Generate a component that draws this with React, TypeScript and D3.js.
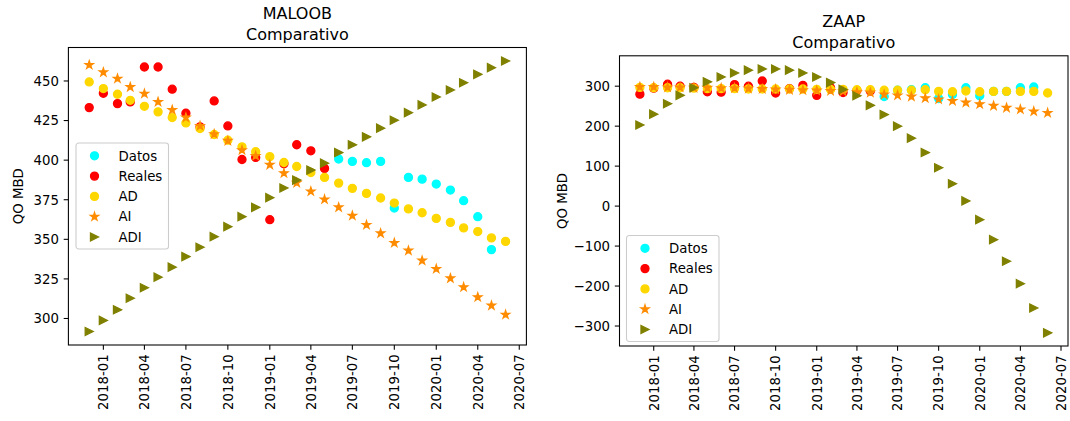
import React from "react";
import * as d3 from "d3";

// ---------- DATA ----------
const months = [
  "2017-12", "2018-01", "2018-02", "2018-03", "2018-04", "2018-05", "2018-06", "2018-07",
  "2018-08", "2018-09", "2018-10", "2018-11", "2018-12", "2019-01", "2019-02", "2019-03",
  "2019-04", "2019-05", "2019-06", "2019-07", "2019-08", "2019-09", "2019-10", "2019-11",
  "2019-12", "2020-01", "2020-02", "2020-03", "2020-04", "2020-05", "2020-06",
];
const realesMonths = months.slice(0, 18);
const datosMonths = [
  "2019-06", "2019-07", "2019-08", "2019-09", "2019-10", "2019-11",
  "2019-12", "2020-01", "2020-02", "2020-03", "2020-04", "2020-05",
];
const xTickLabels = [
  "2018-01", "2018-04", "2018-07", "2018-10", "2019-01", "2019-04",
  "2019-07", "2019-10", "2020-01", "2020-04", "2020-07",
];

// MALOOB
const maloobDatos = [400.7, 399.2, 398.4, 399.2, 369.8, 389.1, 388.0, 384.9, 381.1, 374.4, 364.3, 343.5];
const maloobReales = [433.2, 442.2, 435.7, 436.8, 458.8, 458.8, 444.8, 429.6, 421.0, 437.4, 421.6, 400.4, 401.7, 362.4, 397.7, 409.7, 405.9, 394.8];
const maloobAD = [449.4, 445.2, 441.6, 437.8, 434.0, 430.5, 426.9, 423.5, 420.0, 416.2, 412.6, 408.4, 405.3, 402.2, 398.5, 396.0, 392.2, 389.1, 385.5, 382.2, 379.0, 376.1, 372.9, 369.2, 366.8, 363.2, 360.7, 357.2, 354.9, 350.9, 348.7];
const maloobAI = [460.1, 455.5, 451.5, 446.2, 442.0, 436.8, 431.7, 426.9, 421.6, 416.4, 412.2, 406.3, 402.7, 397.1, 391.8, 385.7, 380.3, 375.2, 370.2, 364.9, 359.1, 353.8, 347.7, 342.9, 336.6, 331.3, 325.4, 319.8, 313.5, 308.2, 302.4];
const maloobADI = [291.8, 298.8, 305.5, 312.8, 319.4, 326.1, 332.4, 339.1, 345.0, 351.7, 358.0, 364.3, 370.2, 376.3, 382.4, 387.4, 393.7, 398.1, 404.8, 409.7, 414.7, 420.2, 425.2, 430.0, 434.9, 439.9, 444.3, 448.9, 454.2, 458.4, 462.6];
const maloobYTicks = [300, 325, 350, 375, 400, 425, 450];

// ZAAP
const zaapDatos = [274, 290, 291, 296, 269, 279, 296, 276, 287, 287, 296, 298];
const zaapReales = [280, 295, 305, 300, 297, 286, 285, 304, 300, 313, 283, 294, 302, 277, 296, 284, 289, 288];
const zaapAD = [297, 296, 296, 296, 295, 294, 294, 294, 293, 293, 293, 293, 293, 292, 292, 292, 291, 291, 290, 290, 290, 291, 287, 286, 288, 286, 287, 287, 287, 287, 283];
const zaapAI = [298, 298, 297, 297, 296, 296, 295, 295, 294, 293, 292, 291, 290, 289, 288, 287, 285, 284, 279, 277, 274, 270, 267, 263, 259, 255, 251, 246, 242, 237, 233];
const zaapADI = [203, 230, 256, 277, 296, 311, 323, 333, 340, 343, 343, 340, 333, 323, 309, 292, 276, 252, 229, 200, 170, 134, 96, 56, 13, -34, -84, -138, -194, -255, -317];
const zaapYTicks = [-300, -200, -100, 0, 100, 200, 300];

const seriesNames = ["Datos", "Reales", "AD", "AI", "ADI"];
const seriesColors = ["#00ffff", "#ff0000", "#ffd700", "#ff8c00", "#808000"];
const seriesMarkers = ["circle", "circle", "circle", "star", "triangle"];

// ---------- HELPERS ----------
const parseMonth = d3.timeParse("%Y-%m");
const FONT = "DejaVu Sans, sans-serif";

function markerPath(kind: string): string {
  if (kind === "star") {
    const R = 4.2;
    const r = R * 0.381966;
    const pts: string[] = [];
    for (let k = 0; k < 10; k++) {
      const a = -Math.PI / 2 + (k * Math.PI) / 5;
      const rad = k % 2 === 0 ? R : r;
      pts.push(`${(rad * Math.cos(a)).toFixed(3)},${(rad * Math.sin(a)).toFixed(3)}`);
    }
    return "M" + pts.join("L") + "Z";
  }
  if (kind === "triangle") {
    return "M4,0L-4,4L-4,-4Z";
  }
  return "";
}

function Marker({ kind, color, x, y }: { kind: string; color: string; x: number; y: number }) {
  if (kind === "circle") {
    return <circle cx={x} cy={y} r={4} fill={color} stroke={color} strokeWidth={1.33} />;
  }
  return (
    <path
      d={markerPath(kind)}
      transform={`translate(${x},${y})`}
      fill={color}
      stroke={color}
      strokeWidth={1.33}
      strokeLinejoin="miter"
    />
  );
}

type ChartProps = {
  title: string;
  left: number;
  right: number;
  top: number;
  bottom: number;
  datos: number[];
  reales: number[];
  ad: number[];
  ai: number[];
  adi: number[];
  yTicks: number[];
  legendX: number;
  legendY: number;
  yLabelX: number;
};

function Chart(p: ChartProps) {
  const allDates = months.map((m) => parseMonth(m) as Date);
  const d0 = allDates[0].getTime();
  const d1 = allDates[allDates.length - 1].getTime();
  const pad = (d1 - d0) * 0.05;
  const x = d3.scaleTime().domain([new Date(d0 - pad), new Date(d1 + pad)]).range([p.left, p.right]);

  const allVals = [...p.datos, ...p.reales, ...p.ad, ...p.ai, ...p.adi];
  const [mn, mx] = d3.extent(allVals) as [number, number];
  const ypad = (mx - mn) * 0.05;
  const y = d3.scaleLinear().domain([mn - ypad, mx + ypad]).range([p.bottom, p.top]);

  const series = [
    { months: datosMonths, vals: p.datos },
    { months: realesMonths, vals: p.reales },
    { months: months, vals: p.ad },
    { months: months, vals: p.ai },
    { months: months, vals: p.adi },
  ];

  const tickLen = 4.7;
  const fmtY = (v: number) => (v < 0 ? "\u2212" + Math.abs(v) : String(v));
  const cx = (p.left + p.right) / 2;
  const rowH = 20.3;

  return (
    <g>
      {/* Title */}
      <text x={cx} y={p.top - 29} textAnchor="middle" fontFamily={FONT} fontSize={16} fill="#000">
        {p.title}
      </text>
      <text x={cx} y={p.top - 8} textAnchor="middle" fontFamily={FONT} fontSize={16} fill="#000">
        Comparativo
      </text>

      {/* Points */}
      {series.map((s, si) =>
        s.vals.map((v, i) => (
          <Marker
            key={`${si}-${i}`}
            kind={seriesMarkers[si]}
            color={seriesColors[si]}
            x={x(parseMonth(s.months[i]) as Date)}
            y={y(v)}
          />
        ))
      )}

      {/* Frame */}
      <rect
        x={p.left}
        y={p.top}
        width={p.right - p.left}
        height={p.bottom - p.top}
        fill="none"
        stroke="#000"
        strokeWidth={1.07}
      />

      {/* X ticks */}
      {xTickLabels.map((t) => {
        const tx = x(parseMonth(t) as Date);
        return (
          <g key={t}>
            <line x1={tx} x2={tx} y1={p.bottom} y2={p.bottom + tickLen} stroke="#000" strokeWidth={1.07} />
            <text
              transform={`translate(${tx},${p.bottom + tickLen + 4.7}) rotate(-90)`}
              textAnchor="end"
              dy="0.36em"
              fontFamily={FONT}
              fontSize={13.3}
              fill="#000"
            >
              {t}
            </text>
          </g>
        );
      })}

      {/* Y ticks */}
      {p.yTicks.map((t) => {
        const ty = y(t);
        return (
          <g key={t}>
            <line x1={p.left - tickLen} x2={p.left} y1={ty} y2={ty} stroke="#000" strokeWidth={1.07} />
            <text
              x={p.left - tickLen - 4.7}
              y={ty}
              dy="0.36em"
              textAnchor="end"
              fontFamily={FONT}
              fontSize={13.3}
              fill="#000"
            >
              {fmtY(t)}
            </text>
          </g>
        );
      })}

      {/* Y label */}
      <text
        transform={`translate(${p.yLabelX},${(p.top + p.bottom) / 2}) rotate(-90)`}
        textAnchor="middle"
        dy="0.36em"
        fontFamily={FONT}
        fontSize={13.3}
        fill="#000"
      >
        QO MBD
      </text>

      {/* Legend */}
      <g transform={`translate(${p.legendX},${p.legendY})`}>
        <rect x={0} y={0} width={92.5} height={106} rx={2.7} fill="#fff" fillOpacity={0.8} stroke="#cccccc" strokeWidth={1.07} />
        {seriesNames.map((n, i) => (
          <g key={n}>
            <Marker kind={seriesMarkers[i]} color={seriesColors[i]} x={18.5} y={12.8 + i * rowH} />
            <text x={42.5} y={12.8 + i * rowH} dy="0.36em" fontFamily={FONT} fontSize={13.3} fill="#000">
              {n}
            </text>
          </g>
        ))}
      </g>
    </g>
  );
}

export default function App() {
  return (
    <svg
      width={1070}
      height={421}
      style={{ position: "absolute", left: 0, top: 0, background: "#fff" }}
    >
      <rect x={0} y={0} width={1070} height={421} fill="#fff" />
      <Chart
        title="MALOOB"
        left={68.4}
        right={526.4}
        top={47.5}
        bottom={345}
        datos={maloobDatos}
        reales={maloobReales}
        ad={maloobAD}
        ai={maloobAI}
        adi={maloobADI}
        yTicks={maloobYTicks}
        legendX={76}
        legendY={143}
        yLabelX={18}
      />
      <Chart
        title="ZAAP"
        left={619.5}
        right={1068}
        top={55.8}
        bottom={346}
        datos={zaapDatos}
        reales={zaapReales}
        ad={zaapAD}
        ai={zaapAI}
        adi={zaapADI}
        yTicks={zaapYTicks}
        legendX={626.5}
        legendY={235.5}
        yLabelX={562}
      />
    </svg>
  );
}
